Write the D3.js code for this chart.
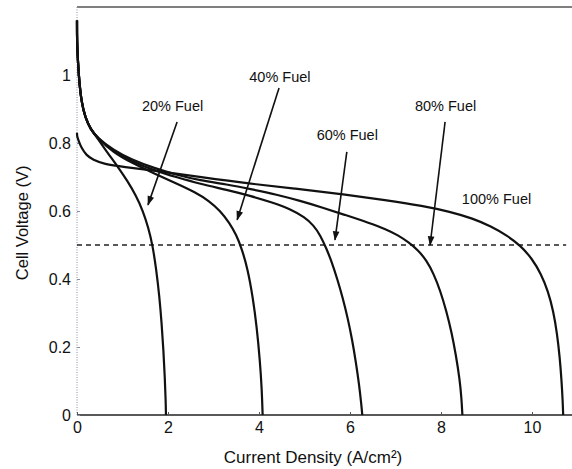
<!DOCTYPE html>
<html><head><meta charset="utf-8">
<script src="https://cdn.jsdelivr.net/npm/d3@7"></script>
<style>body{margin:0;background:#fff}svg{display:block}text{font-family:"Liberation Sans",Arial,sans-serif;fill:#111}</style>
</head><body><svg id="c" width="572" height="469"></svg>
<script>
const xTicks=[0,2,4,6,8,10];
const yTicks=[0,0.2,0.4,0.6,0.8,1];
const yTickLabels=["0","0.2","0.4","0.6","0.8","1"];
const refVoltage=0.5;
const seriesNames=["20% Fuel","40% Fuel","60% Fuel","80% Fuel","100% Fuel"];
const startSeg=[[0,1.16],[0,1.1],[0.02,1.04],[0.05,0.98],[0.1,0.92],[0.18,0.875],[0.3,0.84],[0.45,0.815]];
const fuel20=startSeg.concat([[0.65,0.775],[0.9,0.73],[1.1,0.69],[1.3,0.645],[1.45,0.6],[1.57,0.55],[1.66,0.5],[1.74,0.43],[1.81,0.35],[1.86,0.27],[1.9,0.19],[1.93,0.11],[1.95,0.04],[1.955,0],[1.955,0]]);
const fuel40=startSeg.concat([[0.8,0.772],[1.2,0.742],[1.7,0.71],[2.2,0.68],[2.6,0.655],[2.9,0.63],[3.15,0.6],[3.35,0.565],[3.5,0.53],[3.62,0.49],[3.75,0.43],[3.86,0.35],[3.95,0.26],[4.02,0.16],[4.06,0.08],[4.08,0],[4.08,0]]);
const fuel60=startSeg.concat([[0.8,0.776],[1.2,0.746],[1.7,0.719],[2.2,0.699],[2.7,0.68],[3.3,0.662],[3.8,0.645],[4.3,0.625],[4.7,0.605],[5.0,0.582],[5.2,0.558],[5.35,0.528],[5.48,0.49],[5.6,0.45],[5.72,0.4],[5.84,0.345],[5.95,0.285],[6.05,0.22],[6.13,0.155],[6.2,0.09],[6.25,0.03],[6.27,0],[6.27,0]]);
const fuel80=startSeg.concat([[0.8,0.779],[1.2,0.751],[1.7,0.726],[2.2,0.706],[2.7,0.69],[3.3,0.678],[3.8,0.665],[4.4,0.648],[4.9,0.63],[5.4,0.61],[5.9,0.588],[6.4,0.566],[6.8,0.546],[7.05,0.529],[7.3,0.507],[7.5,0.484],[7.68,0.455],[7.84,0.415],[7.98,0.367],[8.12,0.305],[8.23,0.245],[8.33,0.175],[8.41,0.105],[8.45,0.05],[8.47,0],[8.47,0]]);
const fuel100=[[0,0.83],[0,0.82],[0.04,0.805],[0.1,0.785],[0.2,0.765],[0.35,0.75],[0.6,0.738],[1.0,0.73],[1.8,0.717],[2.7,0.7],[3.8,0.68],[4.8,0.666],[5.8,0.65],[6.8,0.632],[7.6,0.615],[8.2,0.598],[8.7,0.578],[9.1,0.555],[9.45,0.528],[9.75,0.498],[10.0,0.46],[10.2,0.415],[10.35,0.365],[10.47,0.305],[10.55,0.24],[10.61,0.17],[10.65,0.1],[10.675,0.04],[10.685,0],[10.685,0]];
const labelPos=[[2.1,0.905],[4.46,0.991],[5.94,0.82],[8.1,0.906],[9.22,0.632]];
const arrowFrom=[[2.2,0.862],[4.44,0.962],[5.93,0.774],[8.09,0.862],null];
const arrowTo=[[1.56,0.618],[3.52,0.574],[5.67,0.515],[7.76,0.5],null];
const series=[fuel20,fuel40,fuel60,fuel80,fuel100];

const svg=d3.select("#c");
const x=d3.scaleLinear().domain([0,11]).range([77,577.5]);
const y=d3.scaleLinear().domain([0,1.2]).range([415,7]);

svg.append("defs").append("marker").attr("id","ah").attr("viewBox","0 0 10 10")
 .attr("refX",9).attr("refY",5).attr("markerWidth",7).attr("markerHeight",6).attr("orient","auto")
 .append("path").attr("d","M0,1.5L10,5L0,8.5Z").attr("fill","#111");

svg.append("line").attr("x1",x(0)).attr("x2",572).attr("y1",y(1.2)).attr("y2",y(1.2)).attr("stroke","#555").attr("stroke-width",1.4);
svg.append("line").attr("x1",x(0)).attr("x2",x(0)).attr("y1",y(1.2)).attr("y2",y(0)).attr("stroke","#8a8fa8").attr("stroke-width",1).attr("stroke-dasharray","1,1.5");

const xa=svg.append("g").attr("transform",`translate(0,${y(0)})`).call(d3.axisBottom(x).tickValues(xTicks).tickSize(-3).tickPadding(7).tickFormat(d3.format("d")));
xa.select(".domain").attr("stroke","#222").attr("stroke-width",1.5).attr("d",`M${x(0)},0H572`);
xa.selectAll(".tick line").attr("stroke","#555");
xa.selectAll("text").attr("font-size",16).attr("fill","#111").style("font-family","Liberation Sans, Arial, sans-serif");

const ya=svg.append("g").attr("transform",`translate(${x(0)},0)`).call(d3.axisLeft(y).tickValues(yTicks).tickSize(-3).tickPadding(6).tickFormat((d,i)=>yTickLabels[i]));
ya.select(".domain").remove();
ya.selectAll(".tick line").attr("stroke","#8a8fa8");
ya.selectAll("text").attr("font-size",16).attr("fill","#111").style("font-family","Liberation Sans, Arial, sans-serif");

svg.append("line").attr("x1",x(0)).attr("x2",x(10.75)).attr("y1",y(refVoltage)).attr("y2",y(refVoltage))
 .attr("stroke","#222").attr("stroke-width",1.3).attr("stroke-dasharray","5,4");

const line=d3.line().x(d=>x(d[0])).y(d=>y(d[1])).curve(d3.curveBasis);
svg.append("g").selectAll("path").data(series).join("path")
 .attr("d",d=>line(d)).attr("fill","none").attr("stroke","#111").attr("stroke-width",2.2);

const ann=svg.append("g");
seriesNames.forEach((n,i)=>{
  ann.append("text").attr("x",x(labelPos[i][0])).attr("y",y(labelPos[i][1])).attr("text-anchor","middle")
   .attr("dominant-baseline","middle").attr("font-size",14.5).text(n);
  if(arrowFrom[i]){
    ann.append("line").attr("x1",x(arrowFrom[i][0])).attr("y1",y(arrowFrom[i][1]))
     .attr("x2",x(arrowTo[i][0])).attr("y2",y(arrowTo[i][1])).attr("stroke","#111").attr("stroke-width",1.6).attr("marker-end","url(#ah)");
  }
});

svg.append("text").attr("x",313).attr("y",463).attr("text-anchor","middle").attr("font-size",17).text("Current Density (A/cm²)");
svg.append("text").attr("transform",`translate(28,${y(0.565)}) rotate(-90)`).attr("text-anchor","middle").attr("font-size",16.5).text("Cell Voltage (V)");
</script></body></html>
